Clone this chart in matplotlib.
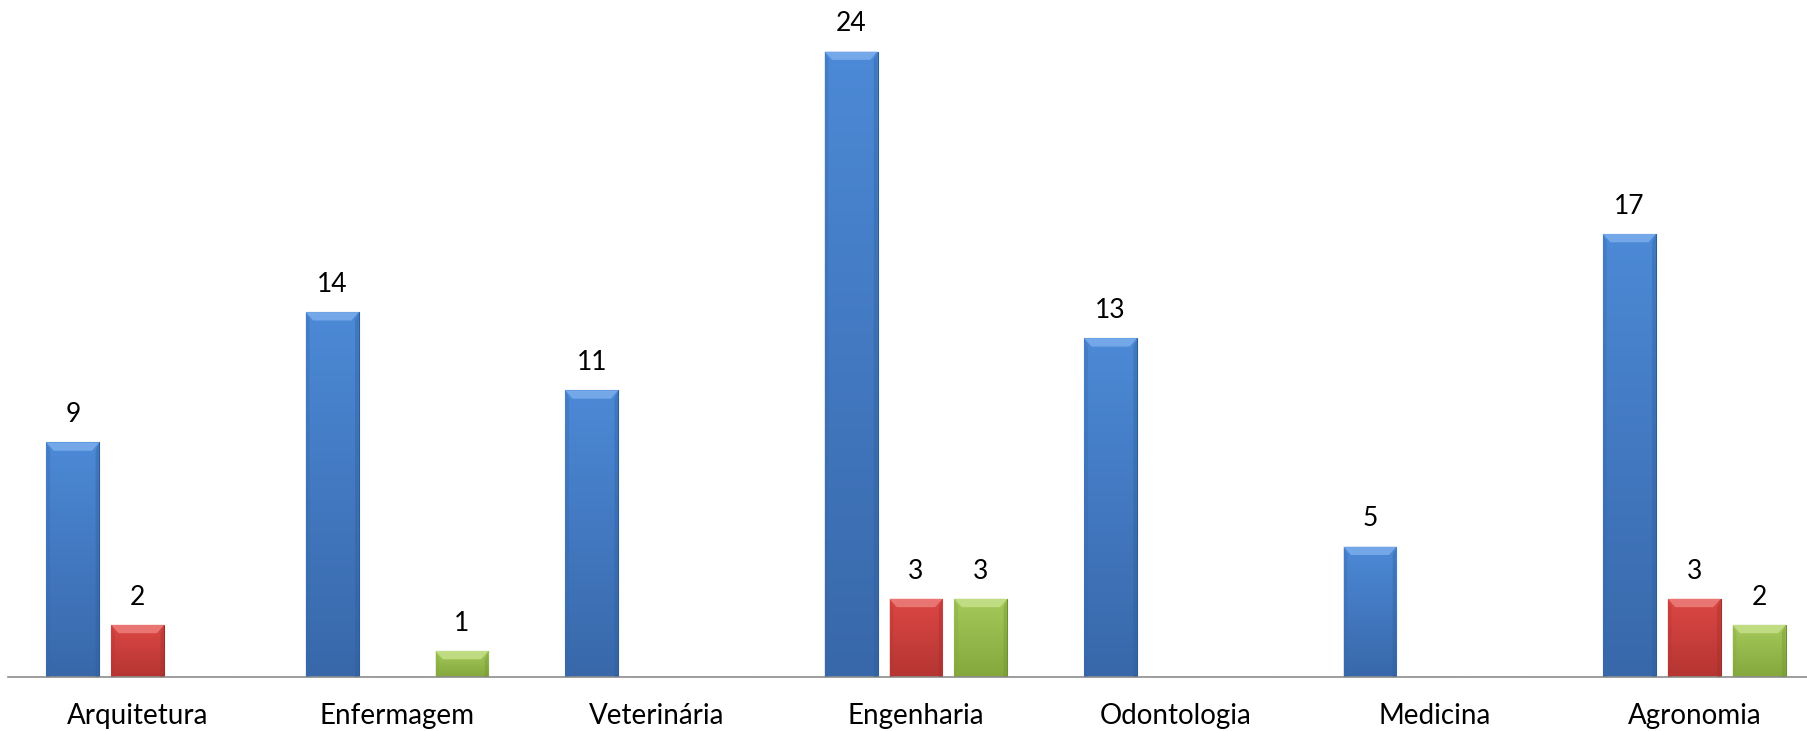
import numpy as np
import matplotlib
matplotlib.use("Agg")
import matplotlib.pyplot as plt
from matplotlib.patches import Polygon
from matplotlib.colors import LinearSegmentedColormap

# data
cursos = ["Arquitetura", "Enfermagem", "Veterinária", "Engenharia", "Odontologia", "Medicina", "Agronomia"]
serie1 = [9, 14, 11, 24, 13, 5, 17]
serie2 = [2, 0, 0, 3, 0, 0, 3]
serie3 = [0, 1, 0, 3, 0, 0, 2]

# (topo, base, borda, bisel)
cores = [
    ("#4c89d6", "#3868aa", "#2d5c97", "#7fb0ee"),
    ("#dc4744", "#b53532", "#9b2e2b", "#ee8280"),
    ("#a5c95a", "#84a83c", "#6f8f30", "#c8e38e"),
]

plt.rcParams['font.family'] = ['Lato', 'DejaVu Sans']

fig = plt.figure(figsize=(18.08, 7.31), dpi=100)
W, H = 1808, 731
ax = fig.add_axes([8 / W, 54 / H, 1816 / W, 26 * 26.06 / H])
ax.set_xlim(-0.5, 6.5)
ax.set_ylim(0, 26)

x = np.arange(len(cursos))
largura = 0.204
passo = 0.25


def barra_bisel(ax, barras, cor):
    topo, base, borda, bisel = cor
    cmap = LinearSegmentedColormap.from_list("g", [base, topo])
    grad = np.linspace(0, 1, 64).reshape(-1, 1)
    for b in barras:
        h = b.get_height()
        if h <= 0:
            continue
        x0 = b.get_x()
        w = b.get_width()
        im = ax.imshow(grad, cmap=cmap, origin="lower", aspect="auto",
                       extent=[x0, x0 + w, 0, h], zorder=2, interpolation="bilinear")
        im.set_clip_path(b)
        # bisel no topo
        dy = 0.32
        dx = w * 0.14
        tri = Polygon([[x0, h], [x0 + w, h], [x0 + w - dx, h - dy], [x0 + dx, h - dy]],
                      closed=True, facecolor=bisel, edgecolor="none", alpha=0.8, zorder=3)
        ax.add_patch(tri)
        lado_e = Polygon([[x0, h], [x0 + dx * 0.5, h - dy], [x0 + dx * 0.5, 0], [x0, 0]],
                         closed=True, facecolor=base, edgecolor="none", alpha=0.35, zorder=3)
        lado_d = Polygon([[x0 + w, h], [x0 + w - dx * 0.5, h - dy], [x0 + w - dx * 0.5, 0], [x0 + w, 0]],
                         closed=True, facecolor=borda, edgecolor="none", alpha=0.35, zorder=3)
        ax.add_patch(lado_e)
        ax.add_patch(lado_d)
        ax.annotate(str(int(h)), (x0 + w / 2, h), xytext=(0, 11), textcoords="offset points",
                    ha="center", va="bottom", fontsize=19, color="black")


for i, (serie, cor) in enumerate(zip([serie1, serie2, serie3], cores)):
    barras = ax.bar(x + (i - 1) * passo, serie, largura, color=cor[0],
                    edgecolor=cor[2], linewidth=0.8, zorder=2)
    barra_bisel(ax, barras, cor)

for s in ["top", "left", "right"]:
    ax.spines[s].set_visible(False)
ax.spines["bottom"].set_color("#8c8c8c")
ax.spines["bottom"].set_linewidth(1.2)
ax.set_yticks([])
ax.set_xticks(x)
ax.set_xticklabels(cursos, fontsize=20)
ax.tick_params(axis="x", length=0, pad=19)

fig.savefig("out.png", dpi=100)
